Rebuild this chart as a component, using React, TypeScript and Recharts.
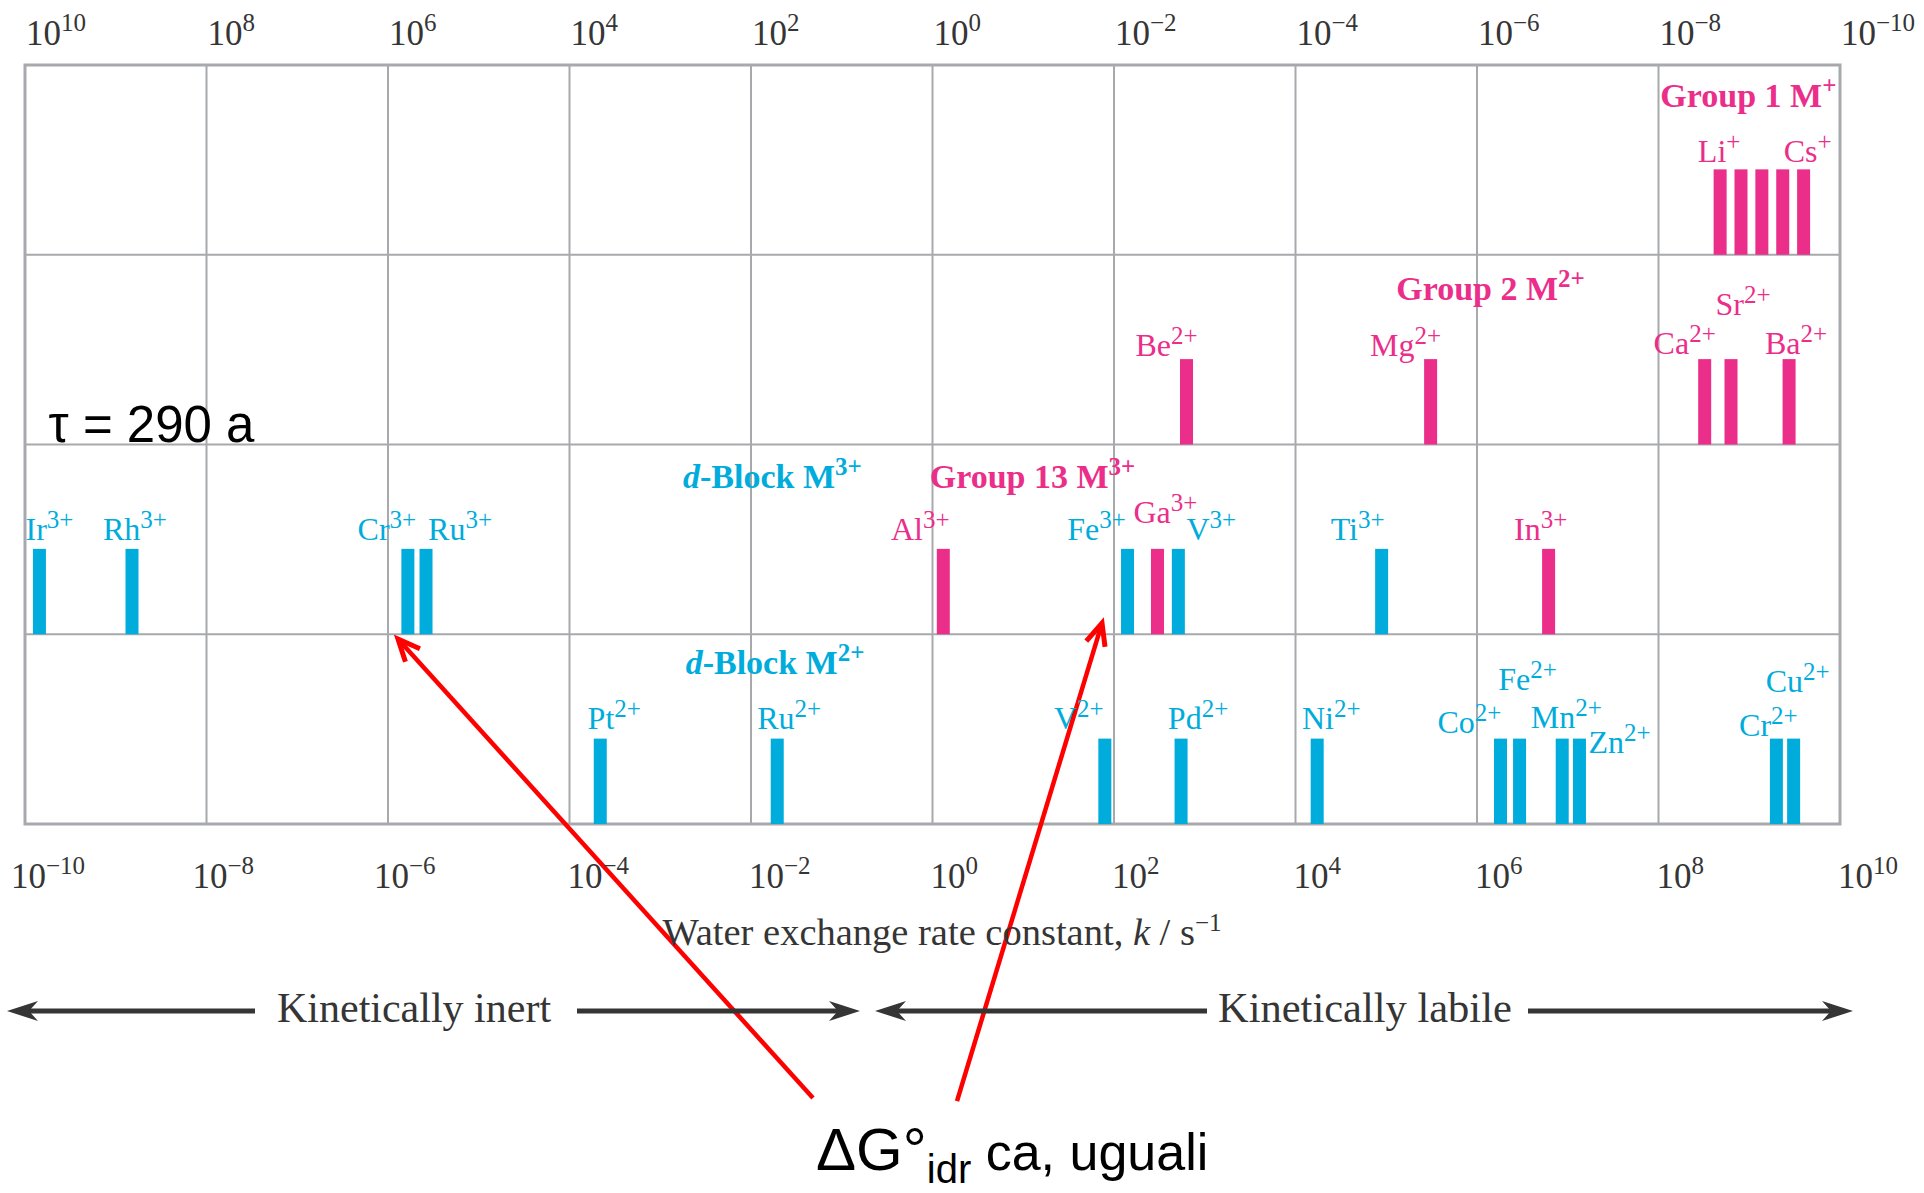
import React from "react";
import {
  ComposedChart,
  Bar,
  XAxis,
  YAxis,
  CartesianGrid,
  LabelList,
  ReferenceDot,
  ReferenceLine,
  ReferenceArea,
} from "recharts";

const W = 1924;
const H = 1193;

const BLUE = "#00acdc";
const PINK = "#ea2e8a";
const GRID = "#a7a9ac";
const INK = "#353535";
const SERIF = '"Liberation Serif", "Times New Roman", serif';
const SANS = '"Liberation Sans", Arial, sans-serif';

// log10(k / s^-1) for each aqua ion
const group1Ions = ["Li", "Na", "K", "Rb", "Cs"];
const group1LogK = [8.68, 8.91, 9.14, 9.37, 9.6];
const group2Ions = ["Be", "Mg", "Ca", "Sr", "Ba"];
const group2LogK = [2.8, 5.49, 8.51, 8.8, 9.44];
const group13Ions = ["Al", "Ga", "In"];
const group13LogK = [0.12, 2.48, 6.79];
const dBlock3Ions = ["Ir", "Rh", "Cr", "Ru", "Fe", "V", "Ti"];
const dBlock3LogK = [-9.84, -8.82, -5.78, -5.58, 2.15, 2.71, 4.95];
const dBlock2Ions = ["Pt", "Ru", "V", "Pd", "Ni", "Co", "Fe", "Mn", "Zn", "Cr", "Cu"];
const dBlock2LogK = [-3.66, -1.71, 1.9, 2.74, 4.24, 6.26, 6.47, 6.94, 7.13, 9.3, 9.49];

const kTicks = [-10, -8, -6, -4, -2, 0, 2, 4, 6, 8, 10];
const rowTicks = [0, 1, 2, 3, 4];
const unlabelled = ["Na+", "K+", "Rb+"];

const BAR_SPAN = 0.45;
const BAR_W = 13;

type Row = {
  key: string;
  ion: string;
  charge: string;
  logk: number;
  range: [number, number];
  color: string;
};

const makeRows = (ions: string[], logk: number[], charge: string, row: number, color: string): Row[] =>
  ions.map((ion, i) => ({
    key: ion + charge,
    ion,
    charge,
    logk: logk[i],
    range: [row, row + BAR_SPAN],
    color,
  }));

const rows: Row[] = [
  ...makeRows(group1Ions, group1LogK, "+", 3, PINK),
  ...makeRows(group2Ions, group2LogK, "2+", 2, PINK),
  ...makeRows(dBlock3Ions, dBlock3LogK, "3+", 1, BLUE),
  ...makeRows(group13Ions, group13LogK, "3+", 1, PINK),
  ...makeRows(dBlock2Ions, dBlock2LogK, "2+", 0, BLUE),
].sort((a, b) => a.logk - b.logk);

const rowByKey: Record<string, Row> = {};
rows.forEach((r) => (rowByKey[r.key] = r));

// label offset from the top centre of its bar: [dx, baseline dy]
const labelNudge: Record<string, [number, number]> = {
  "Li+": [-1, -7],
  "Cs+": [4, -7],
  "Be2+": [-20, -3],
  "Mg2+": [-25, -3],
  "Ca2+": [-20, -5],
  "Sr2+": [12, -44],
  "Ba2+": [7, -5],
  "Ir3+": [10, -9],
  "Rh3+": [3, -9],
  "Cr3+": [-21, -9],
  "Ru3+": [34, -9],
  "Al3+": [-23, -9],
  "Fe3+": [-31, -9],
  "Ga3+": [8, -26],
  "V3+": [33, -9],
  "Ti3+": [-24, -9],
  "In3+": [-8, -9],
  "Pt2+": [14, -10],
  "Ru2+": [12, -10],
  "V2+": [-26, -10],
  "Pd2+": [17, -10],
  "Ni2+": [14, -10],
  "Co2+": [-31, -6],
  "Fe2+": [8, -49],
  "Mn2+": [4, -11],
  "Zn2+": [40, 14],
  "Cr2+": [-8, -3],
  "Cu2+": [4, -47],
};

const titles = [
  { x: 8.02, y: 3.78, color: PINK, lead: "", text: "Group 1 M", charge: "+" },
  { x: 5.11, y: 2.76, color: PINK, lead: "", text: "Group 2 M", charge: "2+" },
  { x: -0.03, y: 1.77, color: PINK, lead: "", text: "Group 13 M", charge: "3+" },
  { x: -2.75, y: 1.77, color: BLUE, lead: "d", text: "-Block M", charge: "3+" },
  { x: -2.72, y: 0.79, color: BLUE, lead: "d", text: "-Block M", charge: "2+" },
];

// red pointers: [tail, tip] in (log k, row) space
const pointers = [
  [{ x: -1.317, y: -1.444 }, { x: -5.89, y: 0.975 }],
  [{ x: 0.27, y: -1.46 }, { x: 1.868, y: 1.059 }],
];

const expo = (n: number) => (n < 0 ? "\u2212" + Math.abs(n) : String(n));

const BottomTick = (props: any) => {
  const { x, y, payload } = props;
  const v = payload.value;
  return (
    <text x={x + (v <= -6 ? -14 : -2)} y={y + 64} fontFamily={SERIF} fontSize={35} fill={INK}>
      10
      <tspan dy={-14} fontSize={25}>
        {expo(v)}
      </tspan>
    </text>
  );
};

const TopTick = (props: any) => {
  const { x, y, payload } = props;
  return (
    <text x={x + 1} y={y - 20} fontFamily={SERIF} fontSize={35} fill={INK}>
      10
      <tspan dy={-14} fontSize={25}>
        {expo(-payload.value)}
      </tspan>
    </text>
  );
};

const IonBar = (props: any) => {
  const { x, y, width, height, payload } = props;
  const cx = x + width / 2;
  return <rect x={cx - BAR_W / 2} y={y} width={BAR_W} height={height} fill={payload.color} />;
};

const IonLabel = (props: any) => {
  const { x, y, width, value } = props;
  const row = rowByKey[value];
  if (!row || unlabelled.includes(value)) return null;
  const [dx, dy] = labelNudge[value] ?? [0, -9];
  return (
    <text
      x={x + width / 2 + dx}
      y={y + dy}
      textAnchor="middle"
      fontFamily={SERIF}
      fontSize={32}
      fill={row.color}
    >
      {row.ion}
      <tspan dy={-12} fontSize={25}>
        {row.charge}
      </tspan>
    </text>
  );
};

const RedArrow = (props: any) => {
  const { x1, y1, x2, y2 } = props;
  const ang = Math.atan2(y2 - y1, x2 - x1);
  const L = 24;
  const s = 0.42;
  const p1 = [x2 - L * Math.cos(ang - s), y2 - L * Math.sin(ang - s)];
  const p2 = [x2 - L * Math.cos(ang + s), y2 - L * Math.sin(ang + s)];
  return (
    <g>
      <line x1={x1} y1={y1} x2={x2} y2={y2} stroke="#ff0000" strokeWidth={4.5} />
      <polyline
        points={`${p1[0]},${p1[1]} ${x2},${y2} ${p2[0]},${p2[1]}`}
        fill="none"
        stroke="#ff0000"
        strokeWidth={5}
        strokeLinejoin="miter"
      />
    </g>
  );
};

const Head = ({ x, y, dir }: { x: number; y: number; dir: number }) => {
  const b = x - dir * 31;
  const n = x - dir * 22;
  return <path d={`M${x},${y} L${b},${y - 10} L${n},${y} L${b},${y + 10} Z`} fill={INK} />;
};

export default function App() {
  const ay = 1011;
  return (
    <div style={{ position: "absolute", left: 0, top: 0, width: W, height: H, background: "#fff" }}>
      <ComposedChart width={W} height={H} data={rows} margin={{ top: 5, right: 84, bottom: 309, left: 25 }}>
        <CartesianGrid stroke={GRID} strokeWidth={2} />
        <XAxis
          xAxisId={0}
          type="number"
          dataKey="logk"
          domain={[-10, 10]}
          ticks={kTicks}
          interval={0}
          axisLine={false}
          tickLine={false}
          tickSize={0}
          tickMargin={0}
          height={60}
          tick={<BottomTick />}
        />
        <XAxis
          xAxisId="top"
          orientation="top"
          type="number"
          dataKey="logk"
          domain={[-10, 10]}
          ticks={kTicks}
          interval={0}
          axisLine={false}
          tickLine={false}
          tickSize={0}
          tickMargin={0}
          height={60}
          tick={<TopTick />}
        />
        <YAxis type="number" domain={[0, 4]} ticks={rowTicks} hide />
        <ReferenceArea x1={-10} x2={10} y1={0} y2={4} fill="none" fillOpacity={0} stroke={GRID} strokeWidth={3} />
        <Bar dataKey="range" isAnimationActive={false} shape={IonBar}>
          <LabelList dataKey="key" content={IonLabel} />
        </Bar>
        {titles.map((t) => (
          <ReferenceDot
            key={t.text + t.charge}
            x={t.x}
            y={t.y}
            r={0}
            ifOverflow="visible"
            shape={(p: any) => (
              <text x={p.cx} y={p.cy} fontFamily={SERIF} fontWeight="bold" fontSize={34} fill={t.color}>
                {t.lead && <tspan fontStyle="italic">{t.lead}</tspan>}
                {t.text}
                <tspan dy={-13} fontSize={25}>
                  {t.charge}
                </tspan>
              </text>
            )}
          />
        ))}
        <ReferenceDot
          x={-9.74}
          y={2.013}
          r={0}
          ifOverflow="visible"
          shape={(p: any) => (
            <text x={p.cx} y={p.cy} fontFamily={SANS} fontSize={51} fill="#000">
              τ = 290 a
            </text>
          )}
        />
        {pointers.map((seg, i) => (
          <ReferenceLine key={i} segment={seg} ifOverflow="visible" shape={RedArrow} />
        ))}
      </ComposedChart>
      <svg width={W} height={H} style={{ position: "absolute", left: 0, top: 0, pointerEvents: "none" }}>
        <text x={942} y={945} textAnchor="middle" fontFamily={SERIF} fontSize={38.5} fill={INK}>
          Water exchange rate constant, <tspan fontStyle="italic">k</tspan> / s
          <tspan dy={-14} fontSize={25}>
            {"\u22121"}
          </tspan>
        </text>

        <line x1={25} y1={ay} x2={255} y2={ay} stroke={INK} strokeWidth={5} />
        <Head x={7} y={ay} dir={-1} />
        <text x={277} y={1022} fontFamily={SERIF} fontSize={42} fill={INK}>
          Kinetically inert
        </text>
        <line x1={577} y1={ay} x2={845} y2={ay} stroke={INK} strokeWidth={5} />
        <Head x={860} y={ay} dir={1} />

        <line x1={890} y1={ay} x2={1207} y2={ay} stroke={INK} strokeWidth={5} />
        <Head x={875} y={ay} dir={-1} />
        <text x={1218} y={1022} fontFamily={SERIF} fontSize={42.5} fill={INK}>
          Kinetically labile
        </text>
        <line x1={1528} y1={ay} x2={1838} y2={ay} stroke={INK} strokeWidth={5} />
        <Head x={1853} y={ay} dir={1} />

        <text x={816} y={1170} fontFamily={SANS} fontSize={60} fill="#000">
          ΔG°
          <tspan dy={13} fontSize={40}>
            idr
          </tspan>
          <tspan dy={-13} fontSize={52}>
            {" ca, uguali"}
          </tspan>
        </text>
      </svg>
    </div>
  );
}
